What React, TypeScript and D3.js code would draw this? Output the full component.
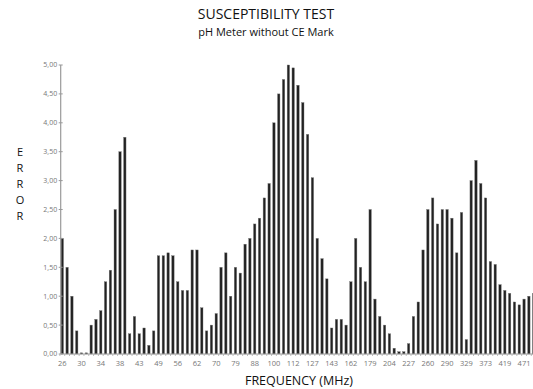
import React, { useEffect, useRef } from 'react';
import * as d3 from 'd3';

// error reading per frequency step (bar order, left to right)
const errorValues: number[] = [
  2.0, 1.5, 1.0, 0.4, 0.02, 0.02, 0.5, 0.6, 0.75, 1.25,
  1.45, 2.5, 3.5, 3.75, 0.35, 0.65, 0.35, 0.45, 0.15, 0.4,
  1.7, 1.7, 1.75, 1.7, 1.25, 1.1, 1.1, 1.8, 1.8, 0.8,
  0.4, 0.5, 0.7, 1.5, 1.75, 1.0, 1.5, 1.4, 1.9, 2.0,
  2.25, 2.35, 2.7, 2.95, 4.0, 4.5, 4.75, 5.0, 4.95, 4.65,
  4.35, 3.8, 3.05, 2.0, 1.65, 1.3, 0.45, 0.6, 0.6, 0.5,
  1.25, 2.0, 1.5, 1.25, 2.5, 0.95, 0.65, 0.5, 0.35, 0.1,
  0.04, 0.04, 0.18, 0.65, 0.9, 1.8, 2.5, 2.7, 2.25, 2.5,
  2.5, 2.35, 1.75, 2.45, 0.25, 3.0, 3.35, 2.95, 2.7, 1.6,
  1.55, 1.2, 1.1, 1.05, 0.9, 0.85, 0.95, 1.0, 1.05
];

// frequency labels shown under every 4th bar
const freqLabels: string[] = [
  '26', '30', '34', '38', '43', '49', '56', '62', '70', '79', '88', '100', '112',
  '127', '143', '162', '179', '204', '227', '260', '290', '329', '373', '419', '471'
];

const yTicks: number[] = [0, 0.5, 1, 1.5, 2, 2.5, 3, 3.5, 4, 4.5, 5];
const yLabelLetters: string[] = ['E', 'R', 'R', 'O', 'R'];

const WIDTH = 533;
const HEIGHT = 389;
const FONT = '"Open Sans", "Noto Sans", sans-serif';

const SusceptibilityChart: React.FC = () => {
  const svgRef = useRef<SVGSVGElement>(null);

  useEffect(() => {
    if (!svgRef.current) return;
    const svg = d3.select(svgRef.current);
    svg.selectAll('*').remove();

    const left = 60.7;
    const top = 65;
    const bottom = 354;
    const step = 4.81;
    const first = 62.3 - step / 2;

    const x = d3.scaleBand<number>()
      .domain(errorValues.map((_, i) => i))
      .range([first, first + step * errorValues.length])
      .paddingInner(0.5)
      .paddingOuter(0.25);

    const y = d3.scaleLinear().domain([0, 5]).range([bottom, top]);

    // titles
    svg.append('text')
      .attr('x', 266).attr('y', 19)
      .attr('text-anchor', 'middle')
      .style('font-family', FONT).style('font-size', '14px').style('fill', '#111')
      .text('SUSCEPTIBILITY TEST');
    svg.append('text')
      .attr('x', 266).attr('y', 36)
      .attr('text-anchor', 'middle')
      .style('font-family', FONT).style('font-size', '11px').style('fill', '#111')
      .text('pH Meter without CE Mark');

    // vertical "ERROR" label
    svg.append('g')
      .selectAll('text')
      .data(yLabelLetters)
      .enter()
      .append('text')
      .attr('x', 20)
      .attr('y', (_: string, i: number) => 156 + i * 16)
      .attr('text-anchor', 'middle')
      .style('font-family', FONT).style('font-size', '11px').style('fill', '#111')
      .text((d: string) => d);

    // bars
    svg.append('g')
      .selectAll('rect')
      .data(errorValues)
      .enter()
      .append('rect')
      .attr('x', (_: number, i: number) => x(i) as number)
      .attr('y', (d: number) => y(d))
      .attr('width', x.bandwidth())
      .attr('height', (d: number) => Math.max(1, bottom - y(d)))
      .attr('fill', '#222')
      .attr('stroke', '#777')
      .attr('stroke-width', 0.4);

    // y axis
    const yAxis = svg.append('g');
    yAxis.append('line')
      .attr('x1', left).attr('x2', left)
      .attr('y1', top).attr('y2', bottom)
      .attr('stroke', '#999').attr('stroke-width', 1.2);
    yAxis.selectAll('line.tick')
      .data(yTicks)
      .enter()
      .append('line')
      .attr('class', 'tick')
      .attr('x1', left - 2).attr('x2', left + 2)
      .attr('y1', (d: number) => y(d)).attr('y2', (d: number) => y(d))
      .attr('stroke', '#999');
    yAxis.selectAll('text')
      .data(yTicks)
      .enter()
      .append('text')
      .attr('x', left - 3.5)
      .attr('y', (d: number) => y(d))
      .attr('dy', '0.35em')
      .attr('text-anchor', 'end')
      .style('font-family', FONT).style('font-size', '7px').style('fill', '#777')
      .text((d: number) => d.toFixed(2).replace('.', ','));

    // x axis
    const xAxis = svg.append('g');
    xAxis.append('line')
      .attr('x1', left).attr('x2', WIDTH)
      .attr('y1', bottom).attr('y2', bottom)
      .attr('stroke', '#999').attr('stroke-width', 1.2);
    xAxis.selectAll('line.tick')
      .data(errorValues.map((_, i) => i))
      .enter()
      .append('line')
      .attr('class', 'tick')
      .attr('x1', (i: number) => (x(i) as number) - x.step() * 0.25)
      .attr('x2', (i: number) => (x(i) as number) - x.step() * 0.25)
      .attr('y1', bottom).attr('y2', bottom + 2)
      .attr('stroke', '#aaa').attr('stroke-width', 0.8);
    xAxis.selectAll('text')
      .data(freqLabels)
      .enter()
      .append('text')
      .attr('x', (_: string, k: number) => (x(k * 4) as number) + x.bandwidth() / 2)
      .attr('y', 363.5)
      .attr('dy', '0.35em')
      .attr('text-anchor', 'middle')
      .style('font-family', FONT).style('font-size', '7.5px').style('fill', '#777')
      .text((d: string) => d);

    svg.append('text')
      .attr('x', 299).attr('y', 385)
      .attr('text-anchor', 'middle')
      .style('font-family', FONT).style('font-size', '12.5px').style('fill', '#111')
      .text('FREQUENCY (MHz)');
  }, []);

  return (
    <svg
      ref={svgRef}
      width={WIDTH}
      height={HEIGHT}
      style={{ position: 'absolute', left: 0, top: 0, background: '#fff' }}
    />
  );
};

export default function App() {
  return <SusceptibilityChart />;
}
